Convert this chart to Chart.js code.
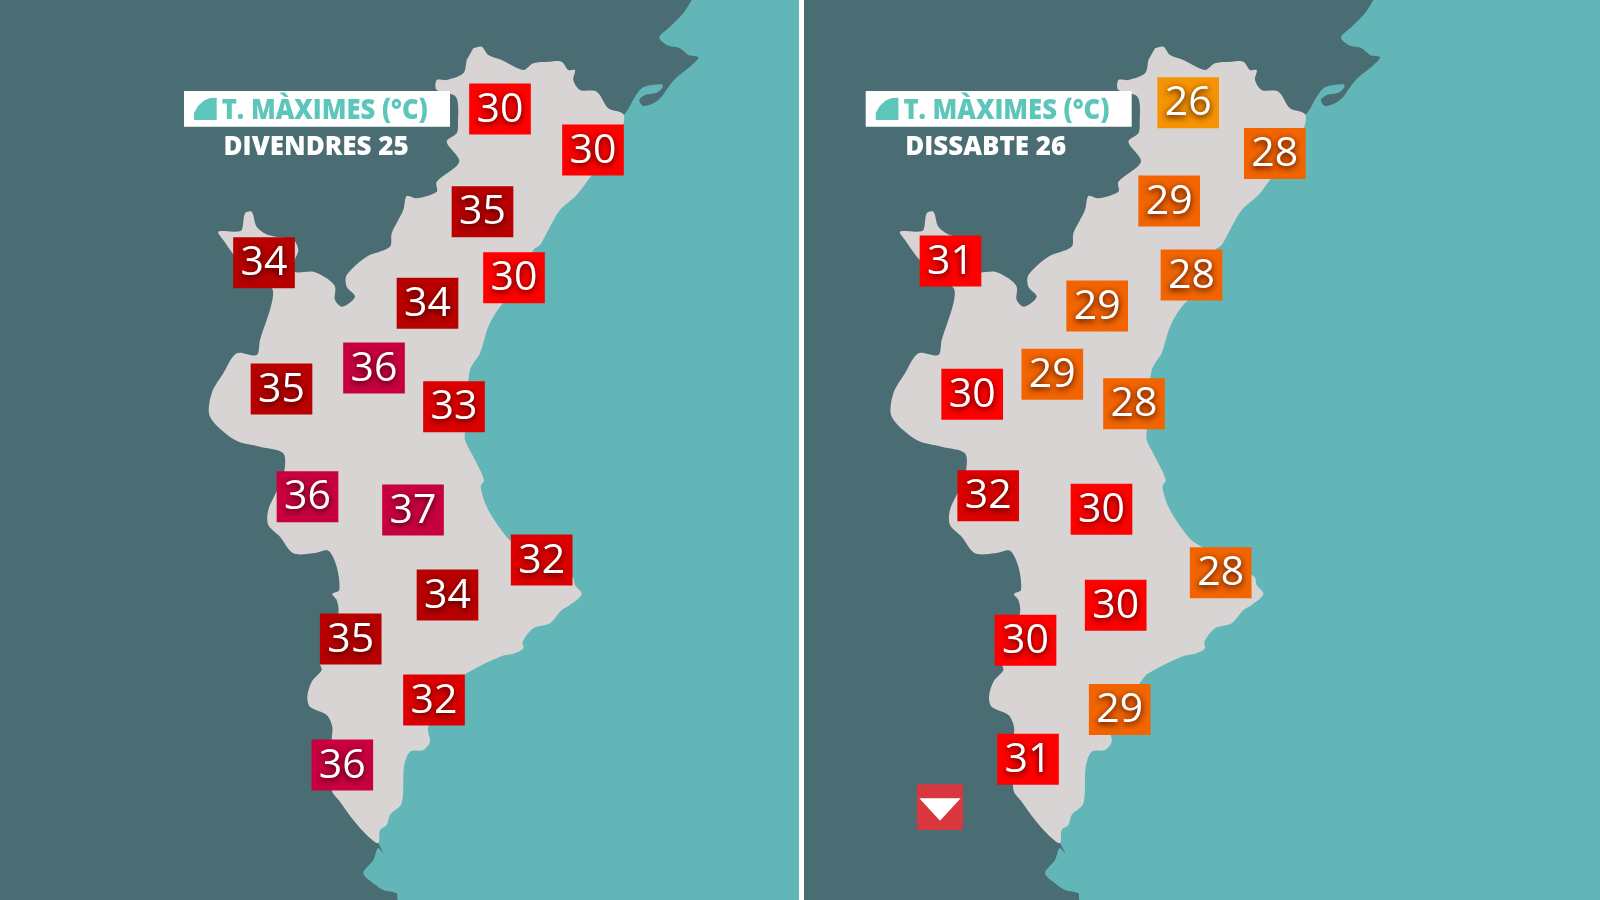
<!DOCTYPE html>
<html>
<head>
<meta charset="utf-8">
<title>T. Màximes</title>
<script src="https://cdn.jsdelivr.net/npm/chart.js@4"></script>
<style>
    html, body { margin: 0; padding: 0; background: #ffffff; width: 1600px; height: 900px; overflow: hidden; }
    canvas { position: absolute; top: 0; }
    #friday { left: 0; }
    #saturday { left: 804px; }
</style>
</head>
<body>
<canvas id="friday" width="799" height="900"></canvas>
<canvas id="saturday" width="796" height="900"></canvas>
<script>
// map data, in the pixel units of the left panel
const landOutline = [
    [473.3, 48.3], [481.7, 46.7], [488.3, 55], [501.7, 60], [523.3, 70], [533.3, 63.3], [550, 61.7], [561.7, 61.7],
    [568.3, 70], [575, 70], [573.3, 80], [580, 90], [596.7, 91.7], [608.3, 108.3], [623.3, 114], [622.7, 126.7],
    [610, 153], [591.7, 175.3], [576.7, 195], [560, 210], [550, 226.7], [540, 245], [533.3, 250], [513.3, 293.3],
    [500, 306.7], [488.3, 326.7], [480, 353.3], [473.3, 363.3], [470, 370], [468.3, 381.7], [465, 431.7], [465, 440],
    [475, 460], [484, 480], [480.7, 486.7], [486.7, 506.7], [500, 528.3], [511.7, 541.7], [540, 556.7], [572.7, 576.7],
    [575, 585], [581.7, 594], [570, 605], [561.7, 610], [550, 623.3], [533.3, 628.3], [522.7, 641.7], [523.3, 648.3],
    [515, 653.3], [500, 656.7], [466.7, 673.3], [458.3, 682.7], [428.3, 726.7], [430, 741.7], [423.3, 750], [410, 751.7],
    [404, 766.7], [401.7, 803.3], [390, 815], [386.7, 825], [380, 830], [378.3, 843.3], [366.7, 835], [353.3, 820],
    [340, 801.7], [331.7, 790], [331.7, 740], [332.3, 726.7], [326.7, 715], [310, 706.7], [307.3, 696.7], [311.7, 681.7],
    [321.7, 670], [320, 663.3], [338.3, 613.3], [336.7, 600], [332.3, 594], [339.3, 590], [336.7, 566.7], [328.3, 550.7],
    [313.3, 553.3], [293.3, 553.3], [280, 536.7], [268.3, 525], [268.3, 510], [277.3, 490], [284, 473.3], [283.3, 453.3],
    [260, 446.7], [235, 440], [210, 416.7], [211.7, 393.3], [223.3, 373.3], [236.7, 353.3], [256.7, 355], [260, 340],
    [271.7, 303.3], [271.7, 287.7], [238.3, 260], [223.3, 240], [218.3, 231.7], [235, 231.7], [241.7, 230], [245, 213.3],
    [251.7, 211.7], [256.7, 226.7], [268.3, 235], [293.3, 240], [298.3, 250], [295, 260], [294.7, 271.7], [313.3, 271.7],
    [326.7, 278.3], [335, 286.7], [335, 300], [342.3, 306.7], [355, 296.7], [346.7, 286.7], [346.7, 275], [366.7, 256.7],
    [390, 246.7], [391.7, 233.3], [403.3, 210], [406.7, 196], [416.7, 198.3], [436.7, 191.7], [436.7, 181.7], [459.3, 161.7],
    [446.7, 141.7], [456.7, 133.3], [458, 125], [456, 97], [436.7, 90], [436.7, 80], [446.7, 80], [463.3, 73.3], [466.7, 60]
];

const seaOutline = [
    [691.7, 0], [683.3, 13.3], [670, 26.7], [659.3, 37.3], [666.7, 45], [680, 48.3], [688.3, 55], [698.3, 57.3],
    [690, 66.7], [676.7, 77.3], [668.3, 87.3], [661.7, 96.7], [653.3, 103.3], [643.3, 106], [639.3, 100], [645, 95],
    [656.7, 92.7], [662.7, 87.3], [661.7, 84.3], [643.3, 87.3], [635, 96.7], [623.3, 115], [560, 150], [480, 300],
    [400, 450], [400, 700], [370, 800], [378.3, 842.3], [383.5, 853.5], [378, 848], [373.3, 860], [363.3, 873.3],
    [373.3, 883.3], [383.3, 890], [396.7, 893.3], [398.3, 900], [1000, 900], [1000, 0]
];

const headerBox = [[184, 91], [450, 91], [450, 126.7], [184, 126.7]];
const headerIcon = [[216.7, 97.7], [216.7, 120], [194, 120], [194, 113], [198, 106], [204, 100.5], [210, 98]];

// friday
const fridayX = [500, 593, 482.5, 264, 514, 427.5, 374, 281.5, 454, 307.5, 413, 541.7, 447.5, 350.7, 434, 342.3];
const fridayY = [109, 150, 211.7, 262.7, 277.7, 303.3, 368, 389, 406.7, 496.7, 510, 560, 595, 639, 700, 765];
const fridayTemps = [30, 30, 35, 34, 30, 34, 36, 35, 33, 36, 37, 32, 34, 35, 32, 36];

// saturday
const saturdayX = [506.5, 593.1, 487.5, 268.8, 509.8, 415.5, 370.6, 290.5, 452.3, 306.5, 419.8, 539, 434, 343.8, 438, 346.3];
const saturdayY = [102.7, 153.5, 201, 261, 275, 306, 374.3, 394.3, 403.7, 495.8, 509.2, 572.8, 605.2, 640.2, 709.5, 759.3];
const saturdayTemps = [26, 28, 29, 31, 28, 29, 29, 30, 28, 32, 30, 28, 30, 30, 29, 31];

const arrowBox = [[235.3, 784.3], [281.3, 784.3], [281.3, 830], [235.3, 830]];
const arrowMark = [[237.6, 798.3], [279, 798.3], [258.3, 820.7]];

const headerTitle = 'T. MÀXIMES (°C)';
const fridayLabel = 'DIVENDRES 25';
const saturdayLabel = 'DISSABTE 26';

const tempLimits = [27, 30, 32, 34, 36];
const tempColors = ['#f59300', '#f16400', '#fe0000', '#dc0000', '#b80000', '#c80040'];

const BOX_WIDTH = 61;
const BOX_HEIGHT = 50.3;
const COAST_TENSION = 0.3;

function colorForTemp(temp) {
    const i = tempLimits.findIndex(limit => temp < limit);
    return tempColors[i === -1 ? tempColors.length - 1 : i];
}

function toPoints(outline) {
    return outline.map(p => ({ x: p[0], y: p[1] }));
}

function polygon(outline, color, tension = 0) {
    return {
        type: 'line',
        data: toPoints(outline),
        backgroundColor: color,
        borderColor: color,
        borderWidth: 0,
        pointRadius: 0,
        tension: tension,
        fill: 'shape'
    };
}

const mapText = {
    id: 'mapText',
    afterDatasetsDraw(chart, args, opts) {
        const { ctx, scales: { x, y } } = chart;
        ctx.save();
        ctx.textBaseline = 'alphabetic';
        ctx.textAlign = 'left';
        ctx.font = '800 28.5px "Open Sans"';
        ctx.fillStyle = '#5cc6bb';
        ctx.fillText(headerTitle, x.getPixelForValue(221.7), y.getPixelForValue(119), 206);
        ctx.font = '800 26px "Open Sans"';
        ctx.fillStyle = '#ffffff';
        ctx.fillText(opts.label, x.getPixelForValue(223.5), y.getPixelForValue(155), opts.labelWidth);

        ctx.font = '400 41px "Open Sans"';
        ctx.textAlign = 'center';
        ctx.textBaseline = 'middle';
        ctx.shadowColor = 'rgba(40, 0, 0, 0.95)';
        ctx.shadowBlur = 6;
        ctx.shadowOffsetY = 2;
        opts.temps.forEach((t, i) => {
            ctx.fillText(String(t), x.getPixelForValue(opts.xs[i]), y.getPixelForValue(opts.ys[i]) + 1);
        });
        ctx.restore();
    }
};

// chart.js paints the first dataset on top, so the list runs from top to bottom
function createPanel(id, xMin, xMax, xs, ys, temps, label, labelWidth, extras) {
    return new Chart(document.getElementById(id), {
        type: 'scatter',
        data: {
            datasets: [
                {
                    type: 'bar',
                    data: xs.map((x, i) => ({ x: x, y: [ys[i] - BOX_HEIGHT / 2, ys[i] + BOX_HEIGHT / 2] })),
                    backgroundColor: temps.map(colorForTemp),
                    barThickness: BOX_WIDTH,
                    borderWidth: 0
                },
                ...extras,
                polygon(headerIcon, '#5cc6bb'),
                polygon(headerBox, '#ffffff'),
                polygon(landOutline, '#d8d4d4', COAST_TENSION),
                polygon(seaOutline, '#62b6b7', COAST_TENSION)
            ]
        },
        options: {
            responsive: false,
            animation: false,
            events: [],
            layout: { padding: 0 },
            scales: {
                x: { type: 'linear', min: xMin, max: xMax, display: false, offset: false },
                y: { type: 'linear', min: 0, max: 900, reverse: true, display: false, offset: false }
            },
            plugins: {
                legend: { display: false },
                tooltip: { enabled: false },
                mapText: { xs: xs, ys: ys, temps: temps, label: label, labelWidth: labelWidth }
            }
        },
        plugins: [mapText]
    });
}

const chartBackground = {
    id: 'chartBackground',
    beforeDraw(chart) {
        chart.ctx.save();
        chart.ctx.fillStyle = '#4a6d73';
        chart.ctx.fillRect(0, 0, chart.width, chart.height);
        chart.ctx.restore();
    }
};
Chart.register(chartBackground);

createPanel('friday', 0, 799, fridayX, fridayY, fridayTemps, fridayLabel, 186, []);
createPanel('saturday', 122.3, 918.3, saturdayX, saturdayY, saturdayTemps, saturdayLabel, 161, [
    polygon(arrowMark, '#ffffff'),
    polygon(arrowBox, '#d9373d')
]);
</script>
</body>
</html>
